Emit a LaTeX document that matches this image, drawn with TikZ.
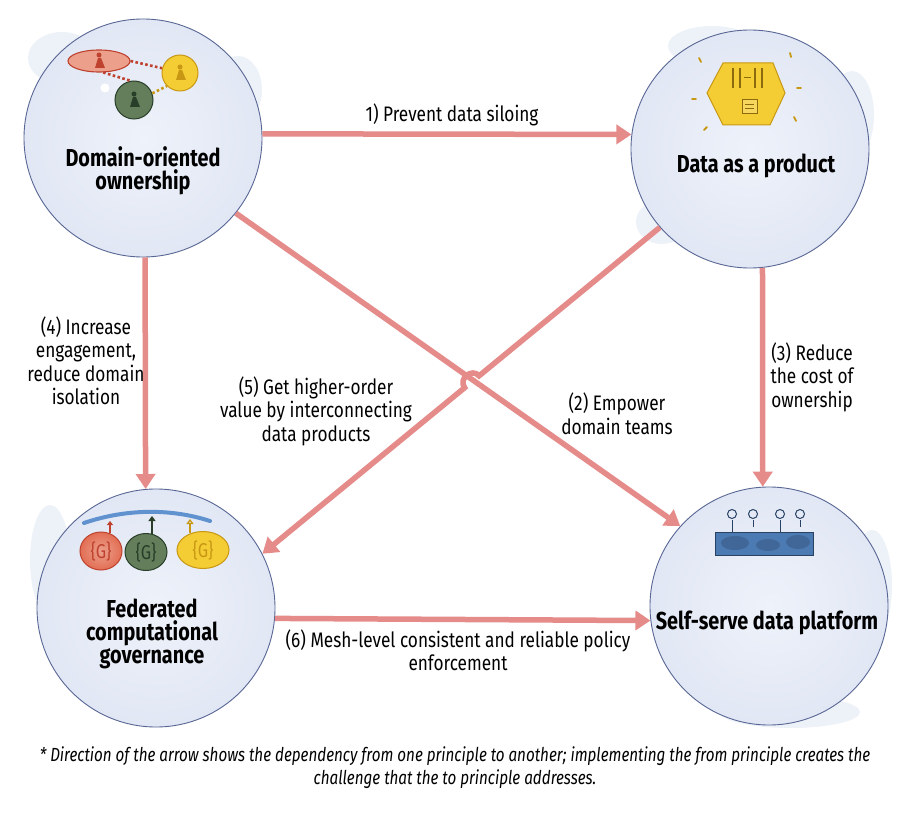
\documentclass[tikz,border=0pt]{standalone}
\usepackage{fontspec}
\setmainfont{Fira Sans}
\newfontfamily\cond[FakeStretch=0.82]{Fira Sans}
\newfontfamily\condt[FakeStretch=0.81]{Fira Sans}
\newfontfamily\condit[FakeStretch=0.80]{Fira Sans Italic}
\usetikzlibrary{arrows.meta,calc,shapes.geometric}
\definecolor{arrowc}{RGB}{229,140,139}
\definecolor{ringc}{RGB}{88,102,148}
\definecolor{circin}{RGB}{238,242,250}
\definecolor{circout}{RGB}{225,231,244}
\definecolor{cloudc}{RGB}{237,241,248}
\definecolor{redf}{RGB}{236,160,140}
\definecolor{redg}{RGB}{226,110,84}
\definecolor{redd}{RGB}{190,66,46}
\definecolor{yelf}{RGB}{244,204,52}
\definecolor{yeld}{RGB}{200,152,20}
\definecolor{grnf}{RGB}{100,126,92}
\definecolor{grnd}{RGB}{40,62,40}
\definecolor{bluea}{RGB}{96,146,208}
\definecolor{bluep}{RGB}{76,122,178}
\definecolor{blued}{RGB}{40,66,100}
\tikzset{
  x=1pt, y=-1pt,
  princ/.style={circle, draw=ringc, line width=0.9pt, inner color=circin, outer color=circout, minimum size=238pt, inner sep=0pt},
  cloud/.style={fill=cloudc, draw=none},
  ptitle/.style={font=\condt\bfseries\fontsize{24.5}{23}\selectfont, align=center, text=black},
  elabel/.style={font=\cond\fontsize{21}{23.5}\selectfont, align=center, text=black},
  arr/.style={draw=arrowc, line width=5.5pt, -{Triangle[length=15pt,width=19pt]}},
  dotl/.style={line width=2.6pt, dash pattern=on 2.6pt off 2.4pt},
  gball/.style={ellipse, line width=1pt, inner sep=0pt, font=\cond\fontsize{20}{20}\selectfont},
}
\begin{document}
\begin{tikzpicture}
\useasboundingbox[fill=white] (0,0) rectangle (907,818);

% watercolor clouds behind circles
\fill[cloud] (62,58) ellipse (34 and 26);
\fill[cloud] (238,90) ellipse (24 and 34);
\fill[cloud] (712,46) ellipse (44 and 20);
\fill[cloud] (852,115) ellipse (22 and 44);
\fill[cloud] (662,222) ellipse (26 and 22);
\fill[cloud] (50,560) ellipse (20 and 55);
\fill[cloud] (872,585) ellipse (20 and 55);
\fill[cloud] (790,712) ellipse (70 and 16);

% principles
\node[princ] (do) at (143,138) {};
\node[princ] (dp) at (750,149) {};
\node[princ] (fg) at (156,608) {};
\node[princ] (ss) at (769,606) {};

\node[ptitle] (dot) at (143,171) {Domain-oriented\\ownership};
\node[ptitle] (dpt) at (756,166) {Data as a product};
\node[ptitle] (fgt) at (152,634) {Federated\\computational\\governance};
\node[ptitle] (sst) at (767,623) {Self-serve data platform};

% icon: domain-oriented ownership
\node[ellipse, draw=redd, fill=redf, line width=1.1pt, minimum width=62pt, minimum height=22pt, inner sep=0pt] (ired) at (99,61) {};
\node[circle, draw=yeld, fill=yelf, line width=1pt, minimum size=36pt, inner sep=0pt] (iyel) at (180,73) {};
\node[circle, draw=grnd, fill=grnf, line width=1pt, minimum size=38pt, inner sep=0pt] (igrn) at (134,100) {};
\draw[dotl, redd] (ired.east) -- (iyel.165);
\draw[dotl, redd] (ired.-70) -- (igrn.100);
\draw[dotl, yeld] (igrn.20) -- (iyel.225);
\foreach \n/\c in {ired/redd, iyel/yeld, igrn/grnd}{
  \fill[\c] ($(\n)+(0,-6)$) circle (2.5);
  \fill[\c] ($(\n)+(-4,7)$) -- ($(\n)+(-1,-3)$) -- ($(\n)+(2,-3)$) -- ($(\n)+(6,7)$) -- cycle;
}
\fill[white] (105,88) circle (4.5);

% icon: data as a product
\fill[yelf, draw=yeld, line width=1pt] (707,93) -- (723,63) -- (773,63) -- (785,93) -- (770,125) -- (723,125) -- cycle;
\foreach \xx in {733,740,755,762}{ \draw[yeld!70!black, line width=1.6pt] (\xx,68) -- (\xx,88); }
\draw[yeld!70!black, line width=1pt] (744,78) -- (751,78);
\draw[yeld!70!black, line width=1pt, fill=yelf!80!white] (742,100) rectangle (757,114);
\draw[yeld!70!black, line width=0.8pt] (745,104) -- (754,104) (745,108) -- (754,108);
\foreach \a/\b/\c/\d in {699/58/701/62, 790/53/791/57, 692/99/696/99, 797/88/801/88, 704/130/707/127, 794/117/796/121}{
  \draw[yeld, line width=1.8pt, line cap=round] (\a,\b) -- (\c,\d);
}

% icon: federated computational governance
\draw[bluea, line width=4pt, line cap=round] (84,523) .. controls (125,509) and (170,508) .. (210,521);
\node[gball, draw=redd, inner color=redf, outer color=redg, minimum width=42pt, minimum height=38pt, text=redd] (gred) at (101,551) {\{G\}};
\node[gball, draw=grnd, fill=grnf, minimum width=42pt, minimum height=37pt, text=grnd] (ggrn) at (146,552) {\{G\}};
\node[gball, draw=yeld, fill=yelf, minimum width=52pt, minimum height=37pt, text=yeld] (gyel) at (203,550) {\{G\}};
\draw[redd, line width=1.8pt, -{Triangle[length=4pt,width=6pt]}] (110,533) -- (110,521);
\draw[grnd, line width=1.8pt, -{Triangle[length=5pt,width=7pt]}] (152,534) -- (152,516);
\draw[yeld, line width=1.4pt, -{Triangle[open,length=5pt,width=7pt]}] (190,533) -- (190,519);

% icon: self-serve data platform
\draw[blued, line width=1pt, fill=bluep] (715,532) rectangle (813,555);
\fill[bluep!70!black, opacity=0.5] (735,543) ellipse (14 and 7) (768,545) ellipse (12 and 6) (798,542) ellipse (12 and 7);
\foreach \xx/\yy in {732/532, 753/527, 780/532, 800/527}{
  \draw[blued, line width=1pt] (\xx,\yy) -- (\xx,520);
  \draw[blued, line width=1pt] (\xx,514) circle (4.5);
}

% connectors
\draw[arr] (do.2) -- (dp.173);
\draw[arr] (do.-39) -- (ss.138);
\draw[arr] (dp.-84) -- (ss.93);
\draw[arr] (do.-89) -- (fg.95);
\draw[arr] (fg.-5) -- (ss.187);
\coordinate (hopa) at ($(dp.-139)!0.455!(fg.27)$);
\coordinate (hopb) at ($(dp.-139)!0.491!(fg.27)$);
\draw[arr] (dp.-139) -- (hopa) .. controls ($(hopa)!11pt!-90:(hopb)$) and ($(hopb)!11pt!90:(hopa)$) .. (hopb) -- (fg.27);

% connector labels
\node[elabel] (l1) at (452,115) {1) Prevent data siloing};
\node[elabel] (l4) at (86,361) {(4) Increase\\engagement,\\reduce domain\\isolation};
\node[elabel] (l5) at (316,411) {(5) Get higher-order\\value by interconnecting\\data products};
\node[elabel] (l2) at (617,414) {(2) Empower\\domain teams};
\node[elabel] (l3) at (812,377) {(3) Reduce\\the cost of\\ownership};
\node[elabel] (l6) at (458,650) {(6) Mesh-level consistent and reliable policy\\enforcement};

% footnote
\node[font=\condit\fontsize{19}{23}\selectfont, align=center] (note) at (455,768) {* Direction of the arrow shows the dependency from one principle to another; implementing the from principle creates the\\challenge that the to principle addresses.};
\end{tikzpicture}
\end{document}
